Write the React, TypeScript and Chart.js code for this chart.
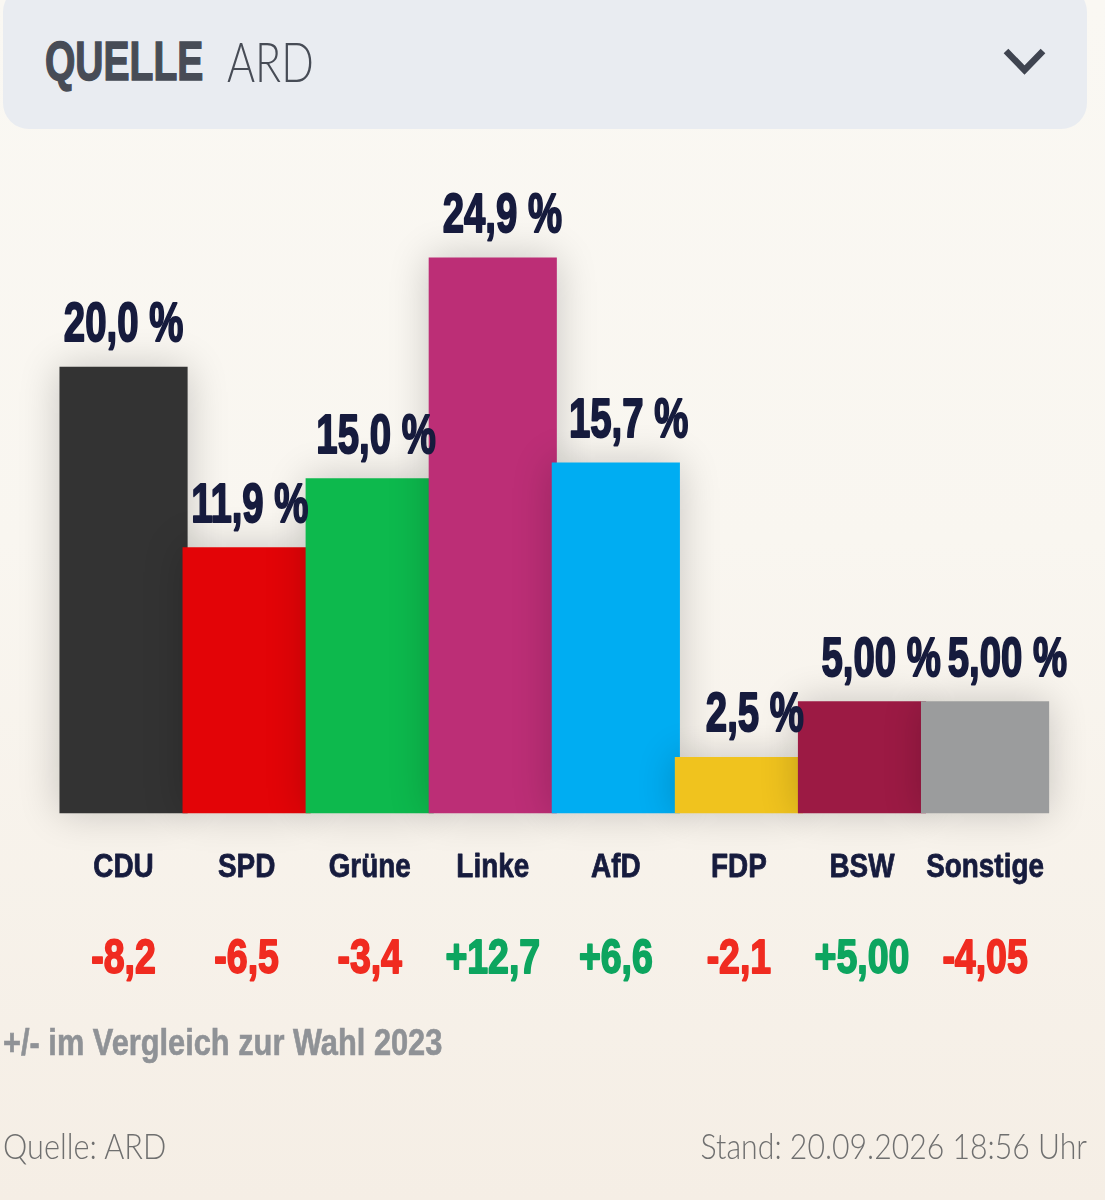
import { useEffect, useRef } from "react"
import { Chart, registerables } from "chart.js"

Chart.register(...registerables)

const parties = ["CDU", "SPD", "Grüne", "Linke", "AfD", "FDP", "BSW", "Sonstige"]
const shares = [20.0, 11.9, 15.0, 24.9, 15.7, 2.5, 5.0, 5.0]
const shareLabels = ["20,0 %", "11,9 %", "15,0 %", "24,9 %", "15,7 %", "2,5 %", "5,00 %", "5,00 %"]
const changeLabels = ["-8,2", "-6,5", "-3,4", "+12,7", "+6,6", "-2,1", "+5,00", "-4,05"]
const barColors = ["#333333", "#e30407", "#0db94d", "#bc2e76", "#00adf2", "#f0c31e", "#9c1a44", "#9b9c9d"]

const sans = '"Liberation Sans", sans-serif'
const navy = "#161b3d"

function drawLabel(ctx: CanvasRenderingContext2D, text: string, x: number, y: number, size: number, color: string, squeeze: number, weight: number) {
  ctx.save()
  ctx.translate(x, y)
  ctx.scale(squeeze, 1)
  ctx.font = `bold ${size}px ${sans}`
  ctx.textAlign = "center"
  ctx.textBaseline = "alphabetic"
  ctx.fillStyle = color
  ctx.strokeStyle = color
  ctx.lineWidth = weight
  ctx.lineJoin = "round"
  ctx.strokeText(text, 0, 0)
  ctx.fillText(text, 0, 0)
  ctx.restore()
}

// soft shadow under every bar, later bars throw it on the one before
const barShadow = {
  id: "barShadow",
  beforeDatasetsDraw(chart: Chart) {
    const ctx = chart.ctx
    ctx.save()
    ctx.shadowColor = "rgba(0, 0, 0, 0.2)"
    ctx.shadowBlur = 38
  },
  afterDatasetsDraw(chart: Chart) {
    chart.ctx.restore()
  },
}

// the font has no condensed cut, so tick labels are squeezed here instead of by the axis
const barLabels = {
  id: "barLabels",
  afterDraw(chart: Chart) {
    const ctx = chart.ctx
    const bars = chart.getDatasetMeta(0).data
    bars.forEach((bar, i) => {
      // value labels sit a little wider apart than the bars
      drawLabel(ctx, shareLabels[i], bar.x + i * 3.2, bar.y - 26, 56, navy, 0.685, 2)
      drawLabel(ctx, parties[i], bar.x, 877, 34, navy, 0.82, 0.8)
      const color = changeLabels[i].startsWith("+") ? "#0da55f" : "#f02b20"
      drawLabel(ctx, changeLabels[i], bar.x, 973, 48, color, 0.78, 1.8)
    })
  },
}

export default function App() {
  const chartRef = useRef<HTMLCanvasElement>(null)

  useEffect(() => {
    if (!chartRef.current) return
    const chart = new Chart(chartRef.current, {
      type: "bar",
      data: {
        labels: parties,
        datasets: [
          {
            data: shares,
            backgroundColor: barColors,
            barThickness: 127.5,
            borderWidth: 0,
            clip: false,
          },
        ],
      },
      options: {
        responsive: false,
        animation: false,
        layout: { padding: { top: 144, left: 62, right: 58.4, bottom: 387 } },
        plugins: {
          legend: { display: false },
          tooltip: { enabled: false },
        },
        scales: {
          y: { display: false, min: 0, max: 30 },
          x: {
            grid: { display: false, drawTicks: false },
            border: { display: false },
            ticks: { display: false },
          },
        },
      },
      plugins: [barShadow, barLabels],
    })
    return () => chart.destroy()
  }, [])

  const squeezed = (origin: string, amount: number) => ({
    transform: `scaleX(${amount})`,
    transformOrigin: origin,
  })

  return (
    <div
      style={{
        position: "absolute",
        left: 0,
        top: 0,
        width: 1105,
        height: 1200,
        overflow: "hidden",
        background: "linear-gradient(#faf8f3 0%, #f9f6f0 45%, #f5eee5 100%)",
        fontFamily: sans,
      }}
    >
      <div
        style={{
          position: "absolute",
          left: 3,
          top: -14,
          width: 1084,
          height: 143,
          borderRadius: 26,
          background: "#e9ecf1",
        }}
      />
      <div style={{ position: "absolute", left: 45, top: 31, fontSize: 55, lineHeight: "60px", fontWeight: "bold", color: "#474c56", whiteSpace: "nowrap", WebkitTextStroke: "1.5px #474c56", ...squeezed("left", 0.71) }}>
        QUELLE
      </div>
      <div style={{ position: "absolute", left: 227, top: 31, fontSize: 55, lineHeight: "60px", color: "#474c56", whiteSpace: "nowrap", fontFamily: "Lato", fontWeight: 300, ...squeezed("left", 0.78) }}>
        ARD
      </div>
      <svg style={{ position: "absolute", left: 1000, top: 44 }} width="50" height="36">
        <path d="M6 7 L24.5 26 L43 7" fill="none" stroke="#3f4450" strokeWidth="6.5" />
      </svg>
      <canvas ref={chartRef} width={1105} height={1200} style={{ position: "absolute", left: 0, top: 0 }} />
      <div style={{ position: "absolute", left: 3, top: 1022, fontSize: 36, lineHeight: "42px", fontWeight: "bold", color: "#8f9296", whiteSpace: "nowrap", WebkitTextStroke: "0.6px #8f9296", ...squeezed("left", 0.855) }}>
        +/- im Vergleich zur Wahl 2023
      </div>
      <div style={{ position: "absolute", left: 3, top: 1124, fontSize: 36, lineHeight: "42px", color: "#6f6f6f", whiteSpace: "nowrap", fontFamily: "Lato", fontWeight: 300, ...squeezed("left", 0.853) }}>
        Quelle: ARD
      </div>
      <div style={{ position: "absolute", right: 18, top: 1124, fontSize: 36, lineHeight: "42px", color: "#6f6f6f", whiteSpace: "nowrap", fontFamily: "Lato", fontWeight: 300, ...squeezed("right", 0.84) }}>
        Stand: 20.09.2026 18:56 Uhr
      </div>
    </div>
  )
}
